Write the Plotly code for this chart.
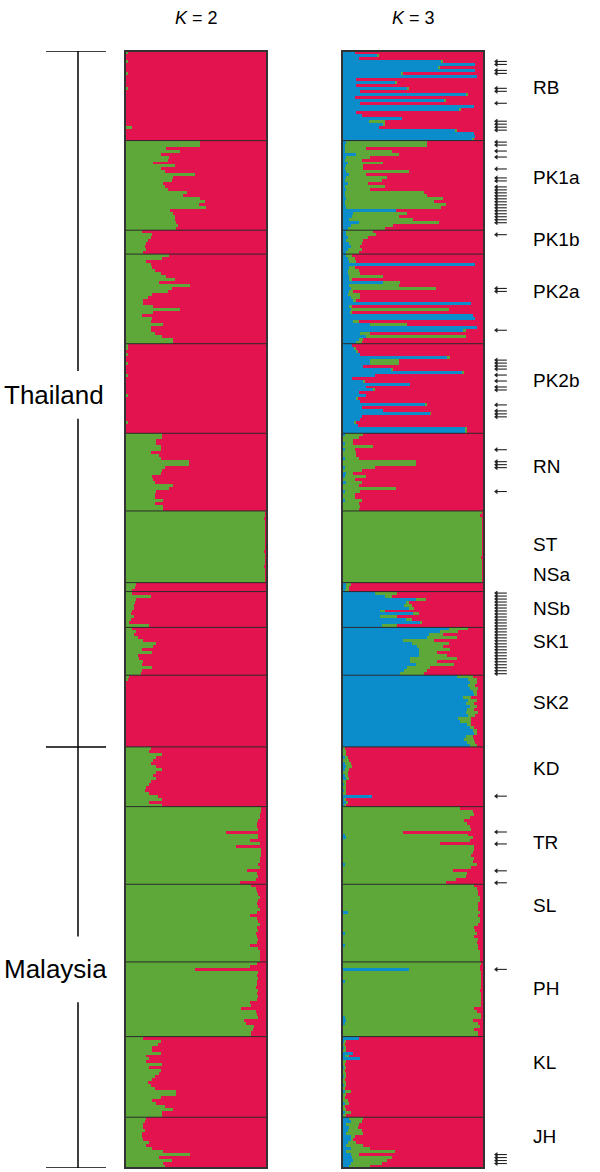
import plotly.graph_objects as go

# ---------------- data ----------------
populations = ["RB", "PK1a", "PK1b", "PK2a", "PK2b", "RN", "ST", "NSa", "NSb",
               "SK1", "SK2", "KD", "TR", "SL", "PH", "KL", "JH"]
regions = ["Thailand", "Malaysia"]
region_last_pop = ["SK2", "JH"]

# K = 2 : green membership (%) of each individual, red is the remainder
k2_green_RB = [2,1,1,2,1,1,1,2,1,1,1,1,2,1,1,1,1,1,1,1,1,1,1,1,1,5,1,1,1,1]
k2_green_PK1a = [53,53,29,39,25,31,30,20,35,25,28,49,34,33,27,28,30,44,41,53,56,52,57,32,34,35,35,36,37,36]
k2_green_PK1b = [12,19,18,16,15,14,15,13]
k2_green_PK2a = [31,26,15,18,19,21,25,29,35,24,46,33,30,19,16,13,13,20,39,20,12,19,18,27,18,18,21,26,34,34]
k2_green_PK2b = [2,2,1,2,1,1,2,1,1,1,2,1,1,1,1,1,1,2,1,1,1,1,1,1,1,1,2,1,1,1]
k2_green_RN = [26,26,22,22,25,25,18,24,25,45,45,28,26,25,19,20,21,34,31,22,21,21,27,21,27,27]
k2_green_ST = [99,99,98,99,99,99,99,99,99,99,99,99,99,98,99,99,99,99,98,99,99,99,99,99]
k2_green_NSa = [8,7,5]
k2_green_NSb = [5,18,8,7,6,6,5,4,6,4,3,17]
k2_green_SK1 = [5,8,6,9,13,22,20,12,19,9,10,13,12,19,12,11]
k2_green_SK2 = [3,2,1,1,1,1,1,1,1,1,1,1,1,1,1,1,1,1,1,1,1,1,1,1]
k2_green_KD = [18,17,26,22,20,18,22,26,22,20,22,18,17,15,14,17,23,26,17,26]
k2_green_TR = [96,96,95,95,94,93,93,94,71,94,94,88,95,78,96,96,96,95,95,94,95,86,93,94,92,81]
k2_green_SL = [89,92,93,94,95,94,93,94,95,93,88,93,94,95,93,94,92,93,94,93,88,94,95,95,95,95]
k2_green_PH = [93,88,49,94,93,94,93,93,92,94,93,94,93,88,89,82,92,93,94,84,85,91,90,89,89]
k2_green_KL = [13,25,23,19,19,25,15,17,15,26,17,25,24,21,19,16,18,21,36,36,25,19,22,28,34,26,26]
k2_green_JH = [15,14,13,13,14,12,12,13,17,15,19,27,46,24,33,27,28]

# K = 3 : blue and green membership (%), red is the remainder
k3_blue_RB = [9,25,12,70,94,68,94,42,95,10,38,10,46,13,88,9,72,13,93,83,10,14,42,19,29,26,80,93,94,92]
k3_green_RB = [0,1,0,1,0,1,0,1,0,0,1,0,1,0,1,0,1,0,0,1,0,0,0,11,1,0,1,0,0,1]
k3_blue_PK1a = [3,2,2,2,10,3,2,4,3,2,3,5,3,2,4,2,3,2,2,3,2,2,3,38,8,7,5,12,6,4]
k3_green_PK1a = [57,58,15,33,30,17,12,25,12,13,44,12,29,26,14,28,17,56,58,68,63,71,67,0,38,33,45,56,30,26]
k3_blue_PK1b = [3,3,4,3,5,6,4,3]
k3_green_PK1b = [19,21,14,12,9,7,10,9]
k3_blue_PK2a = [3,4,5,94,5,4,4,5,5,29,5,6,5,4,6,8,91,5,6,6,92,94,8,20,95,85,13,17,12,10]
k3_green_PK2a = [4,5,5,0,4,8,9,24,2,12,35,60,3,9,7,2,0,2,69,1,0,0,4,26,0,2,7,70,3,4]
k3_blue_PK2b = [7,9,10,13,74,20,20,15,35,85,23,7,15,48,17,22,12,17,10,13,59,14,29,62,14,13,9,11,87,87]
k3_green_PK2b = [0,1,1,0,2,20,20,0,1,1,0,0,1,0,0,1,0,0,1,0,1,0,0,1,0,0,1,0,1,1]
k3_blue_RN = [2,1,1,2,1,2,1,1,2,1,1,2,1,3,2,1,3,1,1,2,1,1,2,1,1,1]
k3_green_RN = [13,11,7,6,21,7,9,9,10,51,51,21,13,5,15,8,11,11,37,11,8,8,12,11,12,11]
k3_blue_ST = [0,0,0,0,0,0,0,0,0,0,0,0,0,0,0,0,0,0,0,0,0,0,0,0]
k3_green_ST = [99,97,99,99,99,99,99,99,99,99,99,99,99,99,99,98,99,99,99,99,99,99,99,99]
k3_blue_NSa = [3,3,2]
k3_green_NSa = [3,2,3]
k3_blue_NSb = [23,30,52,45,44,47,27,50,27,45,55,28]
k3_green_NSb = [16,5,7,2,5,4,3,4,12,4,1,11]
k3_blue_SK1 = [75,69,61,60,43,49,53,54,54,54,48,48,52,46,44,41]
k3_green_SK1 = [14,13,10,21,22,26,18,22,13,20,33,19,27,16,16,17]
k3_blue_SK2 = [81,89,90,89,90,92,93,85,89,87,90,88,87,89,82,83,88,90,92,93,87,86,88,90]
k3_green_SK2 = [11,6,5,5,6,3,2,6,6,6,5,5,9,5,9,8,3,3,3,2,5,7,6,5]
k3_blue_KD = [1,1,1,2,1,2,3,2,1,2,3,1,2,1,2,1,21,2,3,2]
k3_green_KD = [1,2,2,2,4,4,4,3,3,2,2,2,1,2,1,2,0,1,1,1]
k3_blue_TR = [0,1,0,0,0,0,1,1,0,2,3,0,1,0,0,0,0,0,0,2,0,0,0,0,0,0]
k3_green_TR = [83,91,93,90,86,88,89,90,43,87,89,90,68,93,93,92,91,93,92,93,91,78,88,87,80,73]
k3_blue_SL = [0,0,0,0,0,0,0,1,0,4,1,0,0,0,0,0,2,1,0,0,2,0,0,0,0,0]
k3_green_SL = [93,95,96,96,97,97,96,95,96,93,95,97,97,96,93,94,93,92,96,95,94,96,97,97,97,97]
k3_blue_PH = [0,0,47,0,0,0,2,0,0,0,0,0,0,1,0,0,0,0,2,3,2,0,0,1,0]
k3_green_PH = [98,97,50,98,98,98,96,98,98,97,98,98,98,97,98,93,95,98,96,89,94,97,93,95,96]
k3_blue_KL = [12,2,1,2,1,8,2,13,1,1,2,1,1,2,1,1,2,1,2,1,1,1,2,1,1,2,1]
k3_green_KL = [0,1,1,1,2,0,3,0,2,1,1,1,2,1,1,2,1,1,4,2,1,3,3,1,2,4,2]
k3_blue_JH = [5,6,3,5,4,3,6,7,4,3,6,3,6,7,8,6,5]
k3_green_JH = [10,8,9,6,10,12,3,1,6,12,14,34,6,28,24,22,15]

# individuals marked with an arrow (index within population)
arrows_RB = [3,4,6,7,12,13,17,23,24,25,26]
arrows_PK1a = [0,1,3,5,9,12,13,15,16,17,18,19,20,21,22,23,24,25,26,27]
arrows_PK1b = [1]
arrows_PK2a = [11,12,25]
arrows_PK2b = [5,6,7,8,10,12,14,15,20,22,23,24]
arrows_RN = [5,9,10,11,19]
arrows_NSb = [0,1,2,3,4,5,6,7,8,9,10,11]
arrows_SK1 = [0,1,2,3,4,5,6,7,8,9,10,11,12,13,14,15]
arrows_KD = [16]
arrows_TR = [8,12,21,25]
arrows_PH = [2]
arrows_JH = [12,13,14,15]

# ---------------- styles ----------------
RED = "#E2134F"
GREEN = "#5EA83A"
BLUE = "#0B8DCB"
FONT = "Liberation Sans, Arial, sans-serif"
W, H = 600, 1172
label_yshift = {"RB": 8, "PK1a": 8, "PK1b": 3, "PK2a": 7, "PK2b": 8, "RN": 6, "ST": 2,
                "NSa": 13, "NSb": 1, "SK1": 10, "SK2": 9, "KD": 8, "TR": 3, "SL": 18,
                "PH": 11, "KL": 14, "JH": 6}

# ---------------- build ----------------
g = globals()
ys, k2g, k3b, k3g = [], [], [], []
arrow_y = []
bounds = []
starts = {}
i = 0
for p in populations:
    starts[p] = i
    a = g["k2_green_" + p]
    b = g["k3_blue_" + p]
    c = g["k3_green_" + p]
    for j in range(len(a)):
        ys.append(i + j)
        k2g.append(a[j])
        k3b.append(b[j])
        k3g.append(c[j])
    for j in g.get("arrows_" + p, []):
        arrow_y.append(i + j)
    i += len(a)
    bounds.append(i)
N = i
k2r = [100 - v for v in k2g]
k3r = [100 - b - c for b, c in zip(k3b, k3g)]

fig = go.Figure()
common = dict(orientation="h", width=1, showlegend=False, hoverinfo="skip")
fig.add_trace(go.Bar(y=ys, x=k2g, marker=dict(color=GREEN, line=dict(width=0)), xaxis="x", yaxis="y", **common))
fig.add_trace(go.Bar(y=ys, x=k2r, marker=dict(color=RED, line=dict(width=0)), xaxis="x", yaxis="y", **common))
fig.add_trace(go.Bar(y=ys, x=k3b, marker=dict(color=BLUE, line=dict(width=0)), xaxis="x2", yaxis="y", **common))
fig.add_trace(go.Bar(y=ys, x=k3g, marker=dict(color=GREEN, line=dict(width=0)), xaxis="x2", yaxis="y", **common))
fig.add_trace(go.Bar(y=ys, x=k3r, marker=dict(color=RED, line=dict(width=0)), xaxis="x2", yaxis="y", **common))
# arrows: shaft + head drawn as markers
fig.add_trace(go.Scatter(x=[0.55] * len(arrow_y), y=arrow_y, mode="markers",
                         marker=dict(symbol="line-ew", size=8, line=dict(width=1.1, color="#222")),
                         xaxis="x3", yaxis="y", showlegend=False, hoverinfo="skip"))
fig.add_trace(go.Scatter(x=[0.22] * len(arrow_y), y=arrow_y, mode="markers",
                         marker=dict(symbol="triangle-left", size=4.5, color="#222", line=dict(width=0)),
                         xaxis="x3", yaxis="y", showlegend=False, hoverinfo="skip"))

shapes = []
for xr in ["x", "x2"]:
    for b in bounds[:-1]:
        shapes.append(dict(type="line", xref=xr + " domain", yref="y", x0=0, x1=1,
                           y0=b - 0.5, y1=b - 0.5, line=dict(color="#2b2b2b", width=1)))
    shapes.append(dict(type="rect", xref=xr + " domain", yref="y domain", x0=0, x1=1, y0=0, y1=1,
                       line=dict(color="#333333", width=2)))

# region bracket
bx = 78 / W
region_edges = [-0.5]
for rp in region_last_pop:
    region_edges.append(starts[rp] + len(g["k2_green_" + rp]) - 0.5)
for e in region_edges:
    shapes.append(dict(type="line", xref="paper", yref="y", x0=46 / W, x1=106 / W, y0=e, y1=e,
                       line=dict(color="black", width=1.5)))
annotations = []
gaps = [8, 11]
region_shift = [4, -12]
for k, r in enumerate(regions):
    top, bot = region_edges[k], region_edges[k + 1]
    mid = (top + bot) / 2 - region_shift[k] / 3.0
    shapes.append(dict(type="line", xref="paper", yref="y", x0=bx, x1=bx, y0=top, y1=mid - gaps[k],
                       line=dict(color="black", width=1.5)))
    shapes.append(dict(type="line", xref="paper", yref="y", x0=bx, x1=bx, y0=mid + gaps[k], y1=bot,
                       line=dict(color="black", width=1.5)))
    annotations.append(dict(x=2 / W, xref="paper", y=mid, yref="y", text=r, showarrow=False,
                            xanchor="left", yanchor="middle", font=dict(size=26, family=FONT, color="black")))

for p in populations:
    n = len(g["k2_green_" + p])
    c = starts[p] + (n - 1) / 2
    annotations.append(dict(x=531 / W, xref="paper", y=c, yref="y", text=p, showarrow=False,
                            xanchor="left", yanchor="middle", yshift=label_yshift[p],
                            font=dict(size=19, family=FONT, color="black")))

for xc, kk in [(196, 2), (413, 3)]:
    annotations.append(dict(x=xc / W, xref="paper", y=1 - 18 / H, yref="paper",
                            text=f"<i>K</i> = {kk}", showarrow=False, xanchor="center", yanchor="middle",
                            font=dict(size=18, family=FONT, color="black")))

ax = dict(visible=False, fixedrange=True, anchor="y")
fig.update_layout(
    width=W, height=H, margin=dict(l=0, r=0, t=0, b=0),
    paper_bgcolor="white", plot_bgcolor="white",
    barmode="stack", bargap=0,
    xaxis=dict(domain=[125 / W, 267 / W], range=[0, 100], **ax),
    xaxis2=dict(domain=[342 / W, 484 / W], range=[0, 100], **ax),
    xaxis3=dict(domain=[493 / W, 508 / W], range=[0, 1], **ax),
    yaxis=dict(domain=[1 - 1168 / H, 1 - 51 / H], range=[N - 0.5, -0.5], visible=False, fixedrange=True),
    shapes=shapes, annotations=annotations,
)
fig.write_html("out.html", config={"displayModeBar": False},
               post_script="document.body.style.margin='0';document.body.style.overflow='hidden';")
